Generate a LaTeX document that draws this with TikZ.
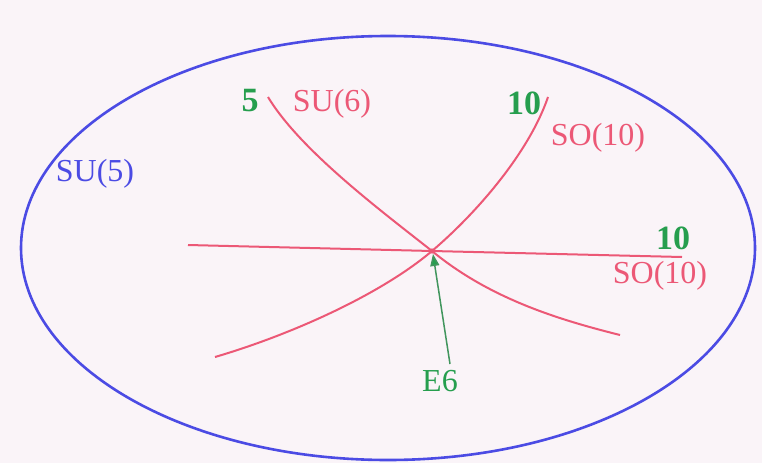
\documentclass[tikz,border=0pt]{standalone}
\usepackage{fontspec}
\setmainfont{Liberation Serif}
\usetikzlibrary{arrows.meta}
\definecolor{bgC}{RGB}{250,244,248}
\definecolor{blueC}{RGB}{75,75,228}
\definecolor{redC}{RGB}{236,88,118}
\definecolor{greenC}{RGB}{38,158,78}
\tikzset{
  redline/.style={draw=redC, line width=2pt},
  rlabel/.style={text=redC, font=\fontsize{32}{32}\selectfont, inner sep=0pt},
  glabel/.style={text=greenC, font=\fontsize{34}{34}\selectfont\bfseries, inner sep=0pt},
  blabel/.style={text=blueC, font=\fontsize{32}{32}\selectfont, inner sep=0pt},
}
\begin{document}
\begin{tikzpicture}[x=1pt,y=-1pt]
\fill[bgC] (0,0) rectangle (762,463);
\useasboundingbox (0,0) rectangle (762,463);
% ellipse
\draw[blueC, line width=2.6pt] (388,248) ellipse [x radius=367, y radius=212];
\node[blabel] (su5) at (95,174) {SU(5)};
% center
\coordinate (O) at (432,251);
\coordinate (hl) at (188,245);
\coordinate (hr) at (682,257);
\coordinate (a1) at (268,97);
\coordinate (b1) at (620,335);
\coordinate (a2) at (548,97);
\coordinate (b2) at (215,357);
\draw[redline] (hl) -- (O) -- (hr);
\draw[redline] (a1) .. controls (300,150) and (380,210) .. (O) .. controls (490,299) and (560,320) .. (b1);
\draw[redline] (a2) .. controls (530,150) and (480,210) .. (O) .. controls (380,295) and (290,335) .. (b2);
\fill[redC] (O) circle (2.6pt);
% labels
\node[glabel] (n5) at (250,101) {5};
\node[rlabel] (su6) at (332,104) {SU(6)};
\node[glabel] (n10a) at (524,103) {10};
\node[rlabel] (so10a) at (598,138) {SO(10)};
\node[glabel] (n10b) at (673,238) {10};
\node[rlabel] (so10b) at (660,276) {SO(10)};
\node[text=greenC, font=\fontsize{32}{32}\selectfont, inner sep=0pt] (e6) at (440,381) {E6};
\draw[greenC!70!gray, line width=1.5pt, -{Triangle[length=12pt,width=9pt,fill=greenC]}] (450,364) -- (433,254);
\end{tikzpicture}
\end{document}
